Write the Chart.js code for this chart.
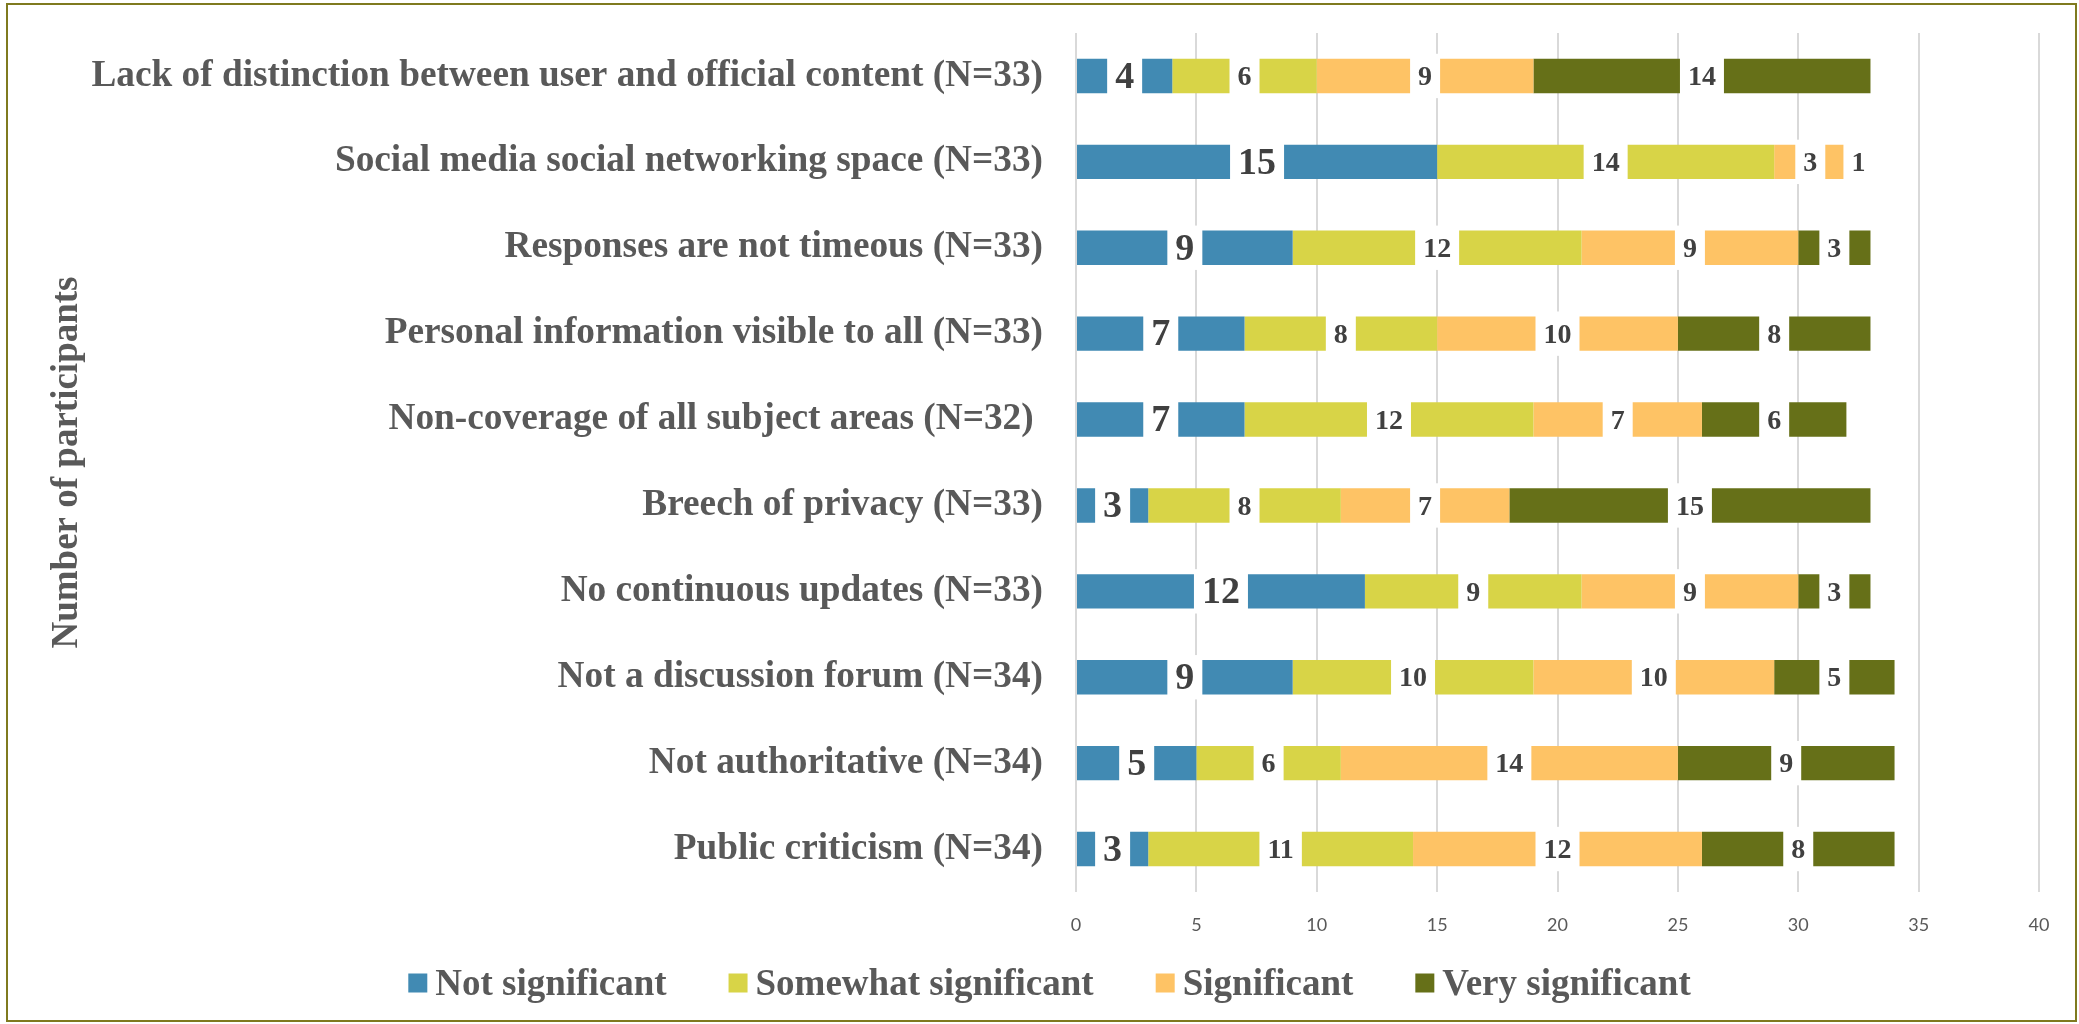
<!DOCTYPE html>
<html>
<head>
<meta charset="utf-8">
<title>Number of participants</title>
<script src="https://cdn.jsdelivr.net/npm/chart.js@4.4.1/dist/chart.umd.min.js"></script>
<style>
    html, body { margin: 0; padding: 0; background: #fff; }
    #wrap { position: relative; width: 2079px; height: 1024px; }
    #frame { position: absolute; left: 6px; top: 3px; width: 2067px; height: 1015px; border: 2px solid #7f7a1f; pointer-events: none; }
    canvas { display: block; }
</style>
</head>
<body>
<div id="wrap">
    <canvas id="chart" width="2079" height="1024"></canvas>
    <div id="frame"></div>
</div>
<script>
// Survey rows, top to bottom
const categories = [
    'Lack of distinction between user and official content (N=33)',
    'Social media social networking space (N=33)',
    'Responses are not timeous (N=33)',
    'Personal information visible to all (N=33)',
    'Non-coverage of all subject areas (N=32) ',
    'Breech of privacy (N=33)',
    'No continuous updates (N=33)',
    'Not a discussion forum (N=34)',
    'Not authoritative (N=34)',
    'Public criticism (N=34)'
];

const notSignificant      = [4, 15, 9, 7, 7, 3, 12, 9, 5, 3];
const somewhatSignificant = [6, 14, 12, 8, 12, 8, 9, 10, 6, 11];
const significant         = [9, 3, 9, 10, 7, 7, 9, 10, 14, 12];
const verySignificant     = [14, 1, 3, 8, 6, 15, 3, 5, 9, 8];

const xTicks = [0, 5, 10, 15, 20, 25, 30, 35, 40];

const SERIF = '"Liberation Serif", "Times New Roman", serif';
const TEXT_GREY = '#595959';

// Value labels sit in the middle of each segment on a white box
const segmentLabels = {
    id: 'segmentLabels',
    afterDatasetsDraw(chart) {
        const ctx = chart.ctx;
        ctx.save();
        ctx.textAlign = 'center';
        ctx.textBaseline = 'middle';
        chart.data.datasets.forEach((ds, di) => {
            const meta = chart.getDatasetMeta(di);
            const size = di === 0 ? 38 : 28;
            ctx.font = `bold ${size}px ${SERIF}`;
            meta.data.forEach((bar, i) => {
                const value = ds.data[i];
                const { x, base, y, height } = bar.getProps(['x', 'base', 'y', 'height'], true);
                const cx = (x + base) / 2;
                const w = ctx.measureText(String(value)).width + 16;
                const h = height + 10;
                ctx.fillStyle = '#ffffff';
                ctx.fillRect(cx - w / 2, y - h / 2, w, h);
                ctx.fillStyle = '#404040';
                ctx.fillText(String(value), cx, y + 2);
            });
        });
        ctx.restore();
    }
};

// Single-row legend under the axis
const bottomLegend = {
    id: 'bottomLegend',
    afterDraw(chart) {
        const ctx = chart.ctx;
        const box = 19, gap = 8, spacing = 62, centerY = 983;
        ctx.save();
        ctx.font = `bold 37px ${SERIF}`;
        ctx.textBaseline = 'middle';
        ctx.textAlign = 'left';
        const items = chart.data.datasets.map(ds => ({
            text: ds.label,
            color: ds.backgroundColor,
            width: box + gap + ctx.measureText(ds.label).width
        }));
        const total = items.reduce((s, it) => s + it.width, 0) + spacing * (items.length - 1);
        let x = chart.width / 2 - total / 2 + 10;
        items.forEach(it => {
            ctx.fillStyle = it.color;
            ctx.fillRect(x, centerY - box / 2, box, box);
            ctx.fillStyle = TEXT_GREY;
            ctx.fillText(it.text, x + box + gap, centerY + 2);
            x += it.width + spacing;
        });
        ctx.restore();
    }
};

const LEFT_PAD = 20;
const PLOT_LEFT = 1076;

new Chart(document.getElementById('chart'), {
    type: 'bar',
    data: {
        labels: categories,
        datasets: [
            { label: 'Not significant', data: notSignificant, backgroundColor: '#418ab3' },
            { label: 'Somewhat significant', data: somewhatSignificant, backgroundColor: '#d8d447' },
            { label: 'Significant', data: significant, backgroundColor: '#fec365' },
            { label: 'Very significant', data: verySignificant, backgroundColor: '#667018' }
        ]
    },
    options: {
        indexAxis: 'y',
        responsive: false,
        animation: false,
        categoryPercentage: 0.4,
        barPercentage: 1.0,
        layout: {
            padding: { left: LEFT_PAD, right: 40, top: 33, bottom: 88 }
        },
        plugins: {
            legend: { display: false },
            tooltip: { enabled: false }
        },
        scales: {
            x: {
                stacked: true,
                min: 0,
                max: 40,
                afterBuildTicks: scale => {
                    scale.ticks = xTicks.map(v => ({ value: v }));
                },
                // fixed axis height so the plot keeps its place
                afterFit: scale => {
                    scale.height = 44;
                    scale.paddingLeft = 0;
                    scale.paddingRight = 0;
                },
                grid: {
                    color: '#d9d9d9',
                    lineWidth: 2,
                    drawTicks: false
                },
                border: { display: false },
                ticks: {
                    padding: 22,
                    color: TEXT_GREY,
                    font: { family: 'Lato', size: 18 }
                }
            },
            y: {
                stacked: true,
                afterFit: scale => {
                    scale.width = PLOT_LEFT - LEFT_PAD;
                    scale.paddingTop = 0;
                    scale.paddingBottom = 0;
                },
                grid: { display: false, drawTicks: false },
                border: { display: false },
                ticks: {
                    padding: 33,
                    color: TEXT_GREY,
                    font: { family: SERIF, size: 37.3, weight: 'bold' }
                },
                title: {
                    display: true,
                    text: 'Number of participants',
                    color: TEXT_GREY,
                    padding: { top: 25, bottom: 0 },
                    font: { family: SERIF, size: 37, weight: 'bold', lineHeight: 1.2 }
                }
            }
        }
    },
    plugins: [segmentLabels, bottomLegend]
});
</script>
</body>
</html>
